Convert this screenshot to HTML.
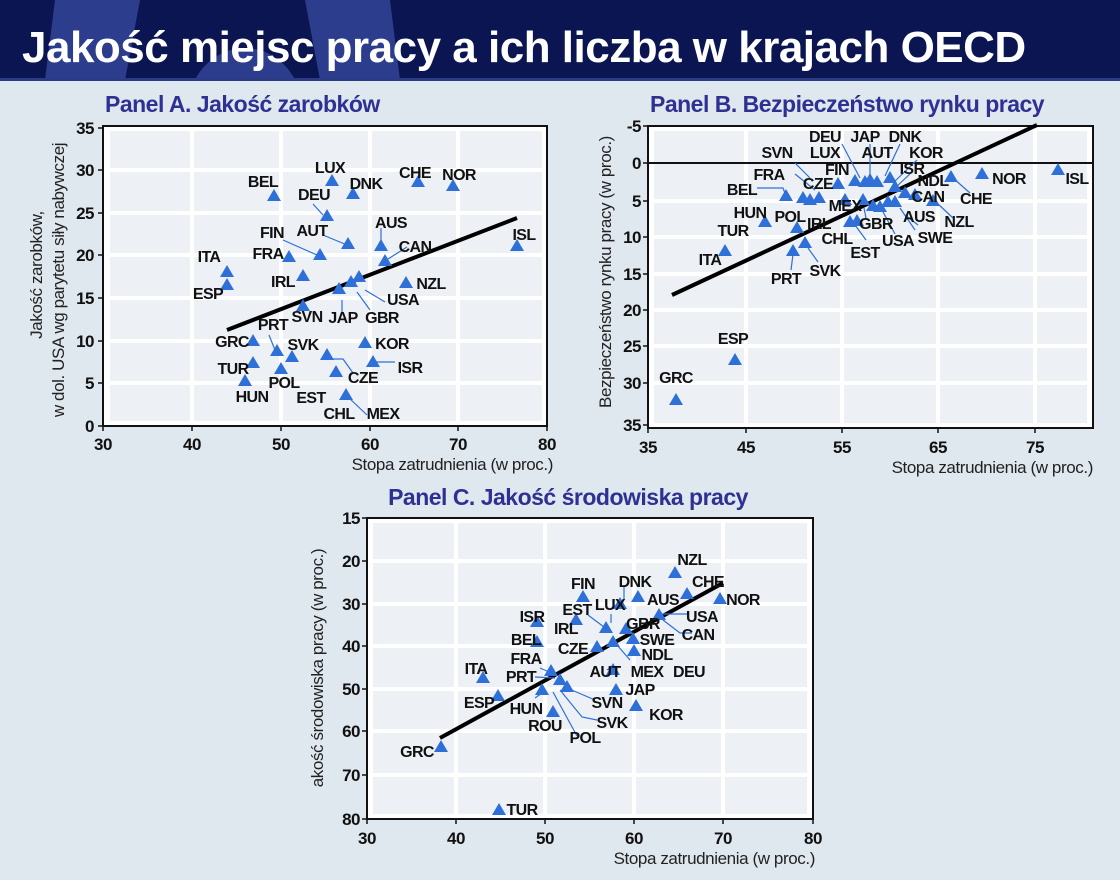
<!DOCTYPE html>
<html><head><meta charset="utf-8"><style>
body{margin:0;width:1120px;height:880px;overflow:hidden;background:#dfe7ef}
svg{display:block}
.l{font:bold 16px "Liberation Sans",sans-serif;fill:#111;text-anchor:middle;letter-spacing:-0.6px}
.tk{font:bold 17px "Liberation Sans",sans-serif;fill:#111;letter-spacing:-0.5px}
.ax{font:17px "Liberation Sans",sans-serif;fill:#222;letter-spacing:-0.4px}
.pt{font:bold 23px "Liberation Sans",sans-serif;fill:#2e3192;letter-spacing:-0.5px}
.ld{stroke:#2e6fd8;stroke-width:1.2;fill:none}
</style></head><body>
<svg width="1120" height="880" xmlns="http://www.w3.org/2000/svg">
<defs>
<path id="t" d="M-7,5 L7,5 L0,-7Z" fill="#2e6fd8"/>
<clipPath id="hc"><rect x="0" y="0" width="1120" height="80"/></clipPath>
</defs>
<rect width="1120" height="880" fill="#dfe7ef"/>
<rect width="1120" height="80" fill="#0b1552"/>
<g clip-path="url(#hc)" fill="#2b3d8c">
<polygon points="55,0 140,0 125,80 45,80"/>
<polygon points="305,0 390,0 400,80 320,80"/>
<ellipse cx="245" cy="112" rx="58" ry="64"/>
</g>
<rect y="78" width="1120" height="3" fill="#2b3b86"/>
<text x="22" y="62" style="font:bold 44px 'Liberation Sans',sans-serif;fill:#fff;letter-spacing:-0.5px">Jakość miejsc pracy a ich liczba w krajach OECD</text>

<!-- PANEL A -->
<text x="105" y="112" class="pt">Panel A. Jakość zarobków</text>
<rect x="103" y="126" width="444" height="300" fill="#fff"/>
<rect x="110" y="131" width="432" height="290" fill="#edf1f6"/>
<g stroke="#fff" stroke-width="4">
<line x1="192" y1="126" x2="192" y2="426"/><line x1="281" y1="126" x2="281" y2="426"/><line x1="370" y1="126" x2="370" y2="426"/><line x1="458" y1="126" x2="458" y2="426"/>
<line x1="103" y1="170" x2="547" y2="170"/><line x1="103" y1="213" x2="547" y2="213"/><line x1="103" y1="255" x2="547" y2="255"/><line x1="103" y1="298" x2="547" y2="298"/><line x1="103" y1="341" x2="547" y2="341"/><line x1="103" y1="383" x2="547" y2="383"/>
</g>
<rect x="103" y="126" width="444" height="300" fill="none" stroke="#111" stroke-width="2"/>
<g stroke="#111" stroke-width="1.5">
<line x1="98" y1="128" x2="103" y2="128"/><line x1="98" y1="170" x2="103" y2="170"/><line x1="98" y1="213" x2="103" y2="213"/><line x1="98" y1="255" x2="103" y2="255"/><line x1="98" y1="298" x2="103" y2="298"/><line x1="98" y1="341" x2="103" y2="341"/><line x1="98" y1="383" x2="103" y2="383"/><line x1="98" y1="426" x2="103" y2="426"/>
<line x1="103" y1="426" x2="103" y2="431"/><line x1="192" y1="426" x2="192" y2="431"/><line x1="281" y1="426" x2="281" y2="431"/><line x1="370" y1="426" x2="370" y2="431"/><line x1="458" y1="426" x2="458" y2="431"/><line x1="547" y1="426" x2="547" y2="431"/>
</g>
<g class="tk" text-anchor="end">
<text x="94" y="134">35</text><text x="94" y="176">30</text><text x="94" y="219">25</text><text x="94" y="261">20</text><text x="94" y="304">15</text><text x="94" y="347">10</text><text x="94" y="389">5</text><text x="94" y="432">0</text>
</g>
<g class="tk" text-anchor="middle">
<text x="103" y="450">30</text><text x="192" y="450">40</text><text x="281" y="450">50</text><text x="370" y="450">60</text><text x="458" y="450">70</text><text x="547" y="450">80</text>
</g>
<text class="ax" text-anchor="end" x="553" y="470">Stopa zatrudnienia (w proc.)</text>
<text class="ax" text-anchor="middle" transform="translate(42,275) rotate(-90)">Jakość zarobków,</text>
<text class="ax" text-anchor="middle" transform="translate(64,280) rotate(-90)">w dol. USA wg parytetu siły nabywczej</text>
<line x1="227" y1="330" x2="517" y2="218" stroke="#000" stroke-width="4"/>
<g class="ld">
<polyline points="313,204 323,215"/><polyline points="381,228 381,243"/><polyline points="323,235 347,245"/><polyline points="283,240 317,255"/><polyline points="388,259 407,247"/><polyline points="365,290 385,302"/><polyline points="357,292 370,310"/><polyline points="342,300 342,312"/><polyline points="269,335 275,350"/><polyline points="333,359 343,359 353,373"/><polyline points="373,362 395,362"/><polyline points="348,397 367,415"/>
</g>
<g>
<use href="#t" x="274" y="196"/><use href="#t" x="332" y="181"/><use href="#t" x="353" y="194"/><use href="#t" x="418" y="182"/><use href="#t" x="453" y="186"/><use href="#t" x="327" y="216"/><use href="#t" x="381" y="246"/><use href="#t" x="348" y="244"/><use href="#t" x="320" y="255"/><use href="#t" x="289" y="257"/><use href="#t" x="227" y="272"/><use href="#t" x="385" y="261"/><use href="#t" x="517" y="246"/><use href="#t" x="303" y="276"/><use href="#t" x="227" y="285"/><use href="#t" x="406" y="283"/><use href="#t" x="359" y="277"/><use href="#t" x="351" y="282"/><use href="#t" x="339" y="289"/><use href="#t" x="303" y="306"/><use href="#t" x="277" y="351"/><use href="#t" x="253" y="341"/><use href="#t" x="292" y="357"/><use href="#t" x="365" y="343"/><use href="#t" x="253" y="363"/><use href="#t" x="281" y="369"/><use href="#t" x="327" y="355"/><use href="#t" x="336" y="372"/><use href="#t" x="373" y="362"/><use href="#t" x="245" y="381"/><use href="#t" x="346" y="395"/>
</g>
<g class="l">
<text x="263" y="187">BEL</text><text x="330" y="173">LUX</text><text x="366" y="189">DNK</text><text x="415" y="178">CHE</text><text x="459" y="180">NOR</text><text x="314" y="200">DEU</text><text x="391" y="228">AUS</text><text x="312" y="236">AUT</text><text x="272" y="238">FIN</text><text x="268" y="259">FRA</text><text x="209" y="262">ITA</text><text x="415" y="252">CAN</text><text x="524" y="240">ISL</text><text x="283" y="287">IRL</text><text x="208" y="299">ESP</text><text x="431" y="289">NZL</text><text x="403" y="305">USA</text><text x="382" y="323">GBR</text><text x="343" y="323">JAP</text><text x="307" y="322">SVN</text><text x="273" y="330">PRT</text><text x="232" y="347">GRC</text><text x="303" y="350">SVK</text><text x="392" y="349">KOR</text><text x="233" y="374">TUR</text><text x="284" y="388">POL</text><text x="363" y="383">CZE</text><text x="410" y="373">ISR</text><text x="252" y="402">HUN</text><text x="311" y="403">EST</text><text x="339" y="419">CHL</text><text x="383" y="419">MEX</text>
</g>

<!-- PANEL B -->
<text x="650" y="112" class="pt">Panel B. Bezpieczeństwo rynku pracy</text>
<rect x="648" y="126" width="445" height="302" fill="#fff"/>
<rect x="654" y="131" width="433" height="292" fill="#edf1f6"/>
<g stroke="#fff" stroke-width="4">
<line x1="746" y1="126" x2="746" y2="428"/><line x1="842" y1="126" x2="842" y2="428"/><line x1="938" y1="126" x2="938" y2="428"/><line x1="1035" y1="126" x2="1035" y2="428"/>
<line x1="648" y1="201" x2="1093" y2="201"/><line x1="648" y1="237" x2="1093" y2="237"/><line x1="648" y1="274" x2="1093" y2="274"/><line x1="648" y1="310" x2="1093" y2="310"/><line x1="648" y1="346" x2="1093" y2="346"/><line x1="648" y1="383" x2="1093" y2="383"/>
</g>
<rect x="648" y="126" width="445" height="302" fill="none" stroke="#111" stroke-width="2"/>
<line x1="648" y1="163" x2="1093" y2="163" stroke="#111" stroke-width="2"/>
<g stroke="#111" stroke-width="1.5">
<line x1="643" y1="126" x2="648" y2="126"/><line x1="643" y1="163" x2="648" y2="163"/><line x1="643" y1="201" x2="648" y2="201"/><line x1="643" y1="237" x2="648" y2="237"/><line x1="643" y1="274" x2="648" y2="274"/><line x1="643" y1="310" x2="648" y2="310"/><line x1="643" y1="346" x2="648" y2="346"/><line x1="643" y1="383" x2="648" y2="383"/><line x1="643" y1="425" x2="648" y2="425"/>
<line x1="648" y1="428" x2="648" y2="433"/><line x1="746" y1="428" x2="746" y2="433"/><line x1="842" y1="428" x2="842" y2="433"/><line x1="938" y1="428" x2="938" y2="433"/><line x1="1035" y1="428" x2="1035" y2="433"/>
</g>
<g class="tk" text-anchor="end">
<text x="641" y="132">-5</text><text x="641" y="169">0</text><text x="641" y="207">5</text><text x="641" y="243">10</text><text x="641" y="280">15</text><text x="641" y="316">20</text><text x="641" y="352">25</text><text x="641" y="389">30</text><text x="641" y="431">35</text>
</g>
<g class="tk" text-anchor="middle">
<text x="648" y="453">35</text><text x="746" y="453">45</text><text x="842" y="453">55</text><text x="938" y="453">65</text><text x="1035" y="453">75</text>
</g>
<text class="ax" text-anchor="end" x="1093" y="473">Stopa zatrudnienia (w proc.)</text>
<text class="ax" text-anchor="middle" transform="translate(611,272) rotate(-90)">Bezpieczeństwo rynku pracy (w proc.)</text>
<line x1="672" y1="295" x2="1037" y2="125" stroke="#000" stroke-width="4"/>
<g class="ld">
<polyline points="953,178 970,193"/><polyline points="937,203 953,218"/><polyline points="757,188 783,188 786,196"/><polyline points="795,174 815,190"/><polyline points="795,163 810,178"/><polyline points="842,144 860,178"/><polyline points="870,144 870,178"/><polyline points="900,144 885,176"/><polyline points="917,160 893,183"/><polyline points="912,172 895,188"/><polyline points="900,208 915,230"/><polyline points="905,215 918,225"/><polyline points="882,210 895,234"/><polyline points="808,248 818,262"/><polyline points="793,254 791,270"/><polyline points="855,225 866,240"/><polyline points="864,208 866,218"/>
</g>
<g>
<use href="#t" x="1058" y="170"/><use href="#t" x="982" y="174"/><use href="#t" x="951" y="177"/><use href="#t" x="933" y="201"/><use href="#t" x="905" y="193"/><use href="#t" x="915" y="195"/><use href="#t" x="890" y="178"/><use href="#t" x="895" y="187"/><use href="#t" x="786" y="196"/><use href="#t" x="803" y="198"/><use href="#t" x="810" y="200"/><use href="#t" x="819" y="198"/><use href="#t" x="838" y="184"/><use href="#t" x="855" y="181"/><use href="#t" x="865" y="182"/><use href="#t" x="870" y="180"/><use href="#t" x="877" y="182"/><use href="#t" x="845" y="200"/><use href="#t" x="863" y="200"/><use href="#t" x="873" y="206"/><use href="#t" x="880" y="207"/><use href="#t" x="888" y="202"/><use href="#t" x="895" y="202"/><use href="#t" x="850" y="222"/><use href="#t" x="857" y="221"/><use href="#t" x="765" y="222"/><use href="#t" x="797" y="228"/><use href="#t" x="805" y="243"/><use href="#t" x="793" y="251"/><use href="#t" x="725" y="251"/><use href="#t" x="735" y="360"/><use href="#t" x="676" y="400"/>
</g>
<g class="l">
<text x="1077" y="184">ISL</text><text x="1009" y="184">NOR</text><text x="976" y="204">CHE</text><text x="959" y="227">NZL</text><text x="928" y="202">CAN</text><text x="933" y="186">NDL</text><text x="912" y="174">ISR</text><text x="926" y="158">KOR</text><text x="905" y="142">DNK</text><text x="865" y="142">JAP</text><text x="825" y="142">DEU</text><text x="825" y="158">LUX</text><text x="877" y="158">AUT</text><text x="777" y="158">SVN</text><text x="837" y="175">FIN</text><text x="769" y="180">FRA</text><text x="818" y="189">CZE</text><text x="742" y="195">BEL</text><text x="845" y="211">MEX</text><text x="750" y="218">HUN</text><text x="790" y="222">POL</text><text x="819" y="229">IRL</text><text x="733" y="236">TUR</text><text x="837" y="244">CHL</text><text x="865" y="258">EST</text><text x="876" y="229">GBR</text><text x="919" y="222">AUS</text><text x="898" y="246">USA</text><text x="935" y="243">SWE</text><text x="710" y="265">ITA</text><text x="786" y="284">PRT</text><text x="825" y="276">SVK</text><text x="733" y="344">ESP</text><text x="676" y="383">GRC</text>
</g>

<!-- PANEL C -->
<text x="568" y="505" class="pt" text-anchor="middle">Panel C. Jakość środowiska pracy</text>
<rect x="367" y="518" width="446" height="301" fill="#fff"/>
<rect x="373" y="523" width="434" height="291" fill="#edf1f6"/>
<g stroke="#fff" stroke-width="4">
<line x1="456" y1="518" x2="456" y2="819"/><line x1="545" y1="518" x2="545" y2="819"/><line x1="634" y1="518" x2="634" y2="819"/><line x1="723" y1="518" x2="723" y2="819"/>
<line x1="367" y1="561" x2="813" y2="561"/><line x1="367" y1="604" x2="813" y2="604"/><line x1="367" y1="646" x2="813" y2="646"/><line x1="367" y1="689" x2="813" y2="689"/><line x1="367" y1="731" x2="813" y2="731"/><line x1="367" y1="775" x2="813" y2="775"/>
</g>
<rect x="367" y="518" width="446" height="301" fill="none" stroke="#111" stroke-width="2"/>
<g stroke="#111" stroke-width="1.5">
<line x1="362" y1="518" x2="367" y2="518"/><line x1="362" y1="561" x2="367" y2="561"/><line x1="362" y1="604" x2="367" y2="604"/><line x1="362" y1="646" x2="367" y2="646"/><line x1="362" y1="689" x2="367" y2="689"/><line x1="362" y1="731" x2="367" y2="731"/><line x1="362" y1="775" x2="367" y2="775"/><line x1="362" y1="819" x2="367" y2="819"/>
<line x1="367" y1="819" x2="367" y2="824"/><line x1="456" y1="819" x2="456" y2="824"/><line x1="545" y1="819" x2="545" y2="824"/><line x1="634" y1="819" x2="634" y2="824"/><line x1="723" y1="819" x2="723" y2="824"/><line x1="813" y1="819" x2="813" y2="824"/>
</g>
<g class="tk" text-anchor="end">
<text x="360" y="524">15</text><text x="360" y="567">20</text><text x="360" y="610">30</text><text x="360" y="652">40</text><text x="360" y="695">50</text><text x="360" y="737">60</text><text x="360" y="781">70</text><text x="360" y="825">80</text>
</g>
<g class="tk" text-anchor="middle">
<text x="367" y="844">30</text><text x="456" y="844">40</text><text x="545" y="844">50</text><text x="634" y="844">60</text><text x="723" y="844">70</text><text x="813" y="844">80</text>
</g>
<text class="ax" text-anchor="end" x="815" y="864">Stopa zatrudnienia (w proc.)</text>
<text class="ax" text-anchor="middle" transform="translate(323,668) rotate(-90)">akość środowiska pracy (w proc.)</text>
<line x1="440" y1="738" x2="723" y2="583" stroke="#000" stroke-width="4"/>
<g class="ld">
<polyline points="624,587 624,600"/><polyline points="611,614 611,623"/><polyline points="588,615 604,627"/><polyline points="661,614 688,614"/><polyline points="663,620 680,633 692,633"/><polyline points="617,645 630,660"/><polyline points="540,668 549,672"/><polyline points="535,677 555,678"/><polyline points="607,670 613,666"/><polyline points="567,688 595,700"/><polyline points="560,690 582,717 597,720"/><polyline points="553,692 577,736"/><polyline points="542,693 535,698"/>
</g>
<g>
<use href="#t" x="675" y="573"/><use href="#t" x="687" y="594"/><use href="#t" x="720" y="599"/><use href="#t" x="638" y="597"/><use href="#t" x="583" y="597"/><use href="#t" x="620" y="604"/><use href="#t" x="606" y="628"/><use href="#t" x="537" y="622"/><use href="#t" x="576" y="620"/><use href="#t" x="626" y="629"/><use href="#t" x="659" y="615"/><use href="#t" x="633" y="639"/><use href="#t" x="537" y="642"/><use href="#t" x="597" y="647"/><use href="#t" x="613" y="642"/><use href="#t" x="634" y="651"/><use href="#t" x="483" y="678"/><use href="#t" x="551" y="671"/><use href="#t" x="560" y="680"/><use href="#t" x="567" y="687"/><use href="#t" x="613" y="670"/><use href="#t" x="616" y="690"/><use href="#t" x="498" y="696"/><use href="#t" x="542" y="690"/><use href="#t" x="553" y="712"/><use href="#t" x="636" y="706"/><use href="#t" x="441" y="747"/><use href="#t" x="499" y="810"/>
</g>
<g class="l">
<text x="692" y="565">NZL</text><text x="708" y="587">CHE</text><text x="743" y="605">NOR</text><text x="663" y="605">AUS</text><text x="635" y="587">DNK</text><text x="583" y="589">FIN</text><text x="610" y="610">LUX</text><text x="577" y="615">EST</text><text x="532" y="622">ISR</text><text x="566" y="634">IRL</text><text x="643" y="629">GBR</text><text x="702" y="622">USA</text><text x="698" y="640">CAN</text><text x="657" y="645">SWE</text><text x="526" y="645">BEL</text><text x="573" y="654">CZE</text><text x="657" y="660">NDL</text><text x="476" y="674">ITA</text><text x="526" y="664">FRA</text><text x="521" y="682">PRT</text><text x="605" y="677">AUT</text><text x="647" y="677">MEX</text><text x="689" y="677">DEU</text><text x="640" y="695">JAP</text><text x="479" y="708">ESP</text><text x="526" y="714">HUN</text><text x="607" y="708">SVN</text><text x="545" y="731">ROU</text><text x="666" y="720">KOR</text><text x="612" y="728">SVK</text><text x="585" y="743">POL</text><text x="417" y="757">GRC</text><text x="522" y="815">TUR</text>
</g>
</svg>
</body></html>
